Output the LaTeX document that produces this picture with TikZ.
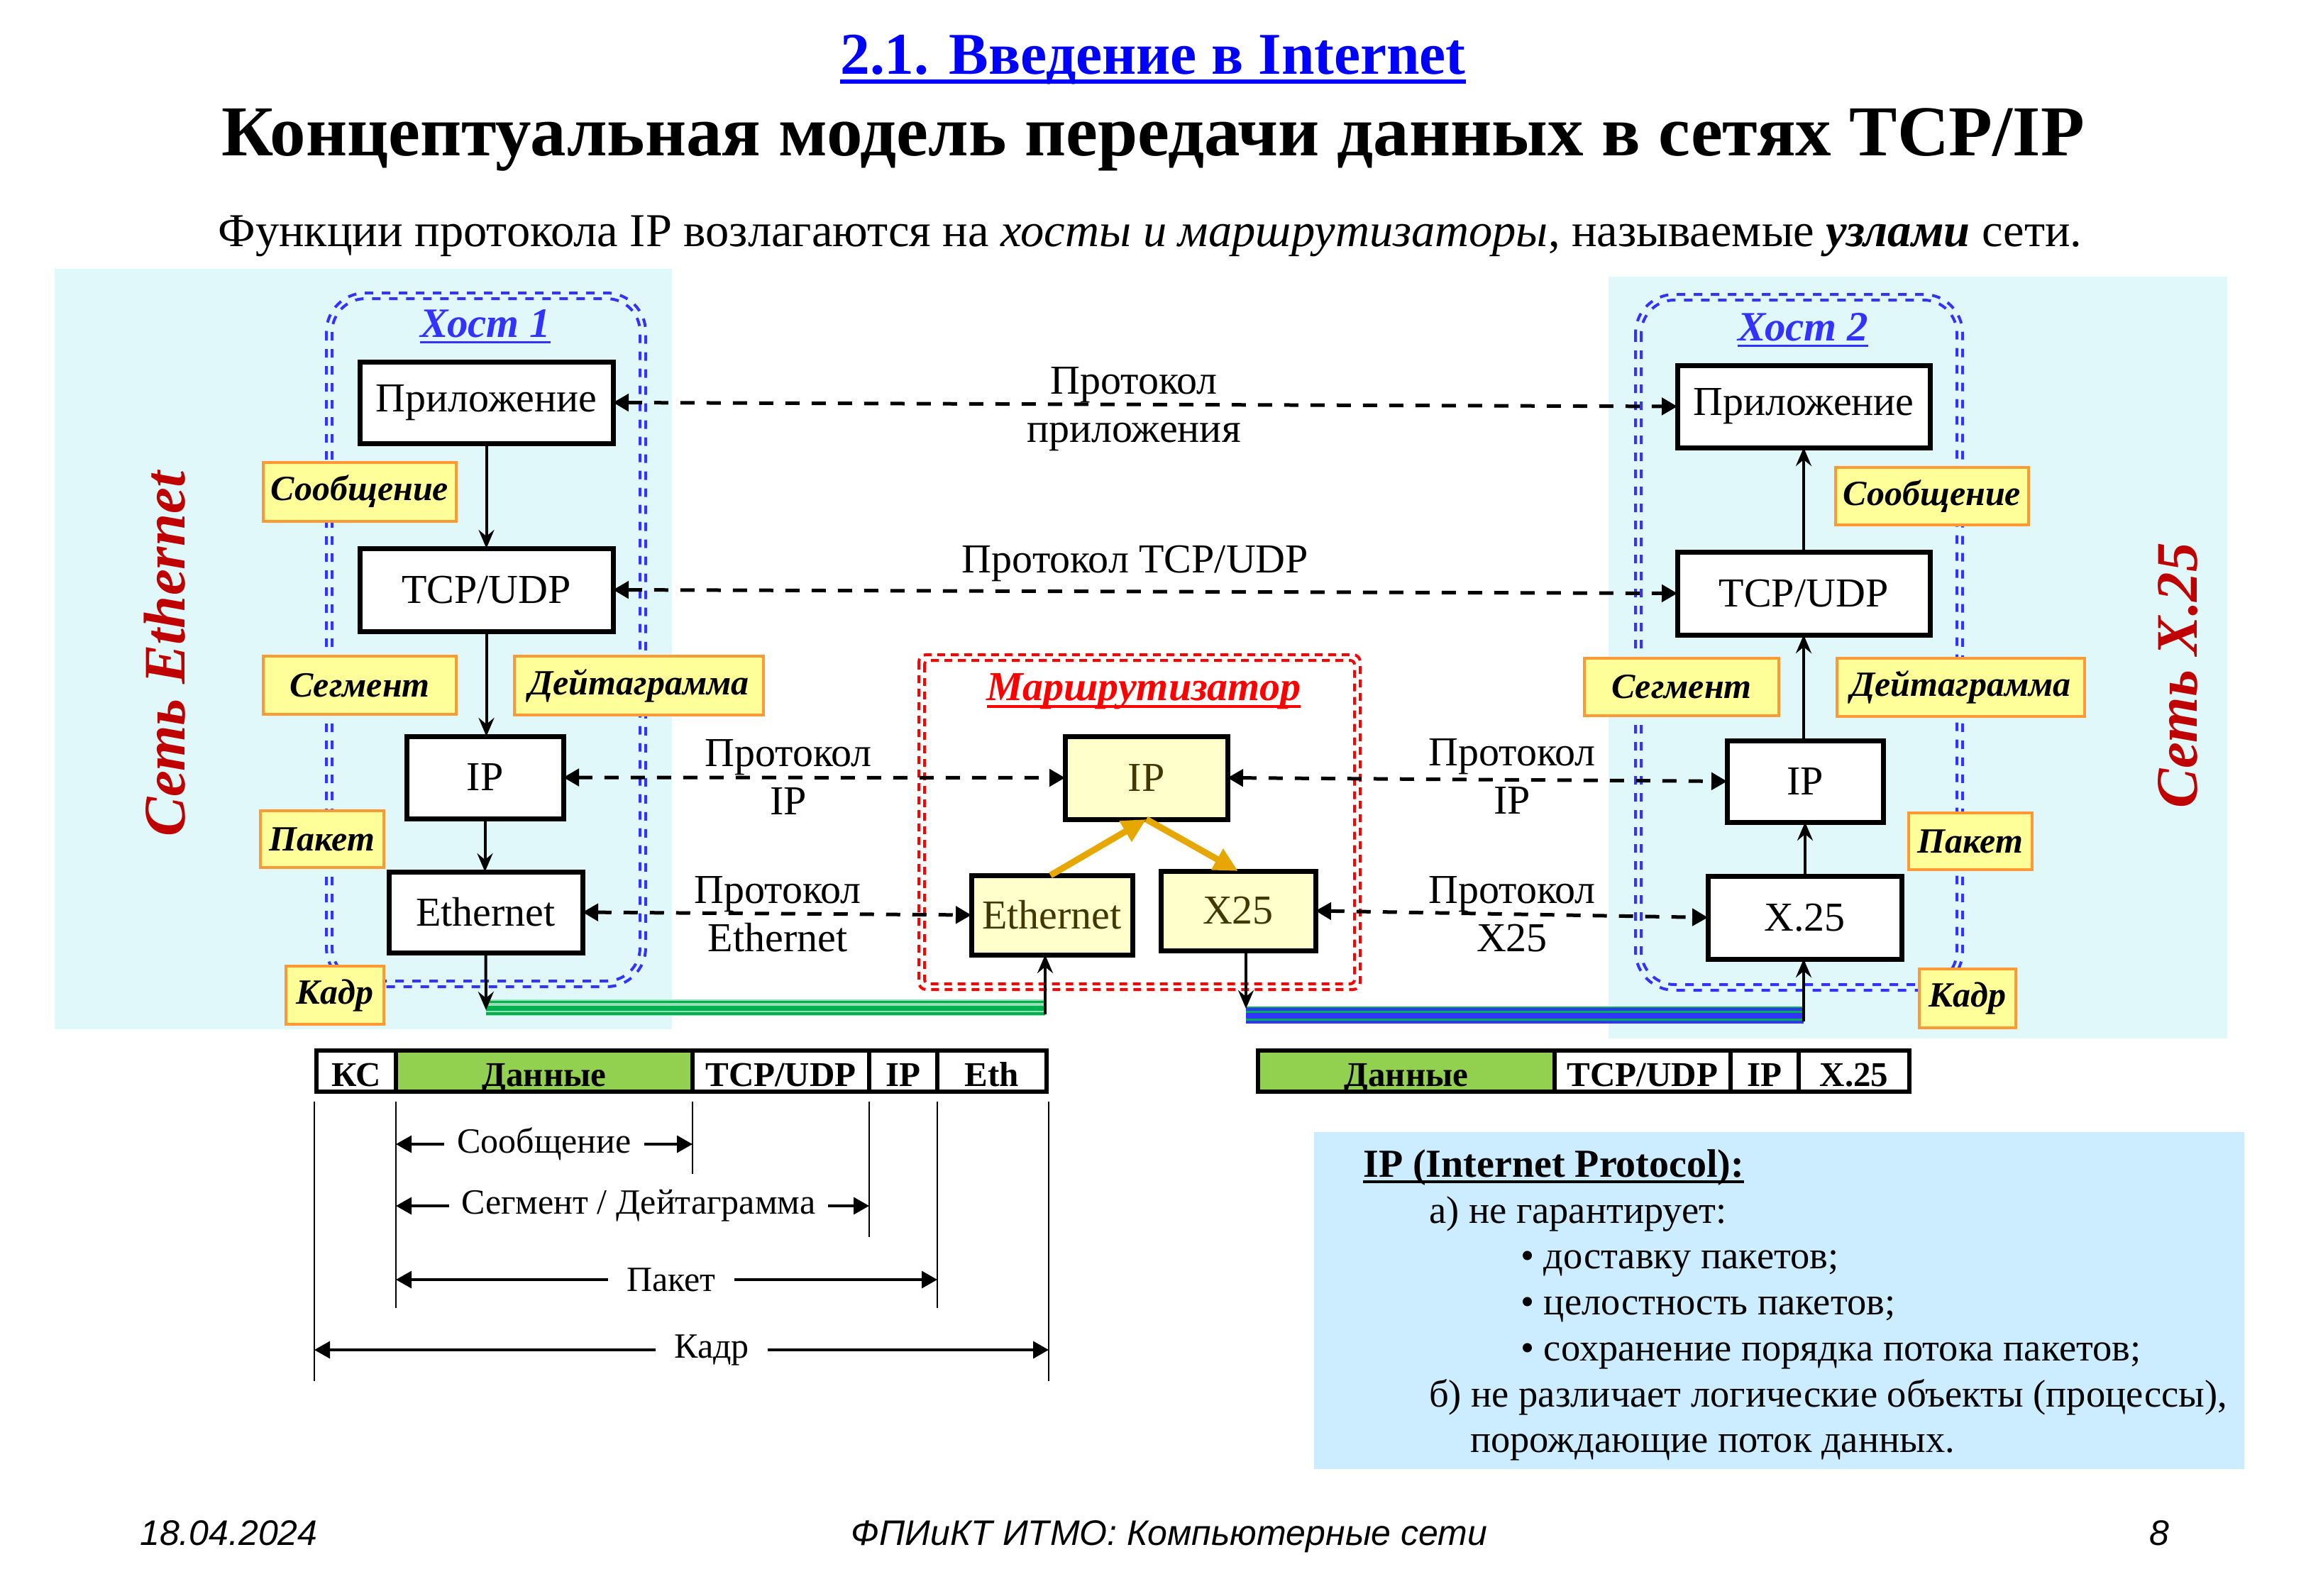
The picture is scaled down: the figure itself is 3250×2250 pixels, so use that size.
\documentclass[tikz,border=0pt]{standalone}
\usepackage{fontspec}
\setmainfont{Liberation Serif}
\setsansfont{Liberation Sans}
\usetikzlibrary{arrows.meta}

\definecolor{netbg}{RGB}{224,248,250}
\definecolor{notebg}{RGB}{204,236,255}
\definecolor{hostblue}{RGB}{51,51,255}
\definecolor{titleblue}{RGB}{0,0,255}
\definecolor{netred}{RGB}{192,0,0}
\definecolor{routerred}{RGB}{255,0,0}
\definecolor{tagfill}{RGB}{255,255,153}
\definecolor{tagedge}{RGB}{255,153,51}
\definecolor{rtrfill}{RGB}{255,255,204}
\definecolor{rtrtext}{RGB}{64,56,0}
\definecolor{gold}{RGB}{230,168,0}
\definecolor{datagreen}{RGB}{146,208,80}
\definecolor{cablegreen}{RGB}{0,176,80}
\definecolor{cablelight}{RGB}{150,225,180}
\definecolor{cableblue}{RGB}{51,51,255}

\newcommand{\fsz}[2]{\fontsize{#1}{#2}\selectfont}

\begin{document}
\begin{tikzpicture}[x=1pt, y=-1pt,
  lbox/.style={draw=black, line width=7pt, fill=white, inner sep=0pt, outer sep=0pt, font=\fsz{58}{68}},
  rbox/.style={lbox, fill=rtrfill, text=rtrtext},
  tagbox/.style={draw=tagedge, line width=4pt, fill=tagfill, inner sep=0pt, font=\bfseries\itshape\fsz{50}{60}},
  hostframe/.style={draw=hostblue, line width=4pt, dash pattern=on 12pt off 12pt},
  rtrframe/.style={draw=routerred, line width=4pt, dash pattern=on 11pt off 8pt},
  proto/.style={draw=black, line width=5pt, dash pattern=on 20pt off 17pt, {Triangle[length=22pt,width=24pt]}-{Triangle[length=22pt,width=24pt]}},
  flowarrow/.style={draw=black, line width=4pt, -{Stealth[length=26pt,width=22pt,inset=9pt]}},
  goldarrow/.style={draw=gold, line width=9pt, -{Triangle[length=34pt,width=32pt]}},
  plabel/.style={font=\fsz{58}{68}, align=center, inner sep=0pt},
  cellbox/.style={draw=black, line width=6pt, inner sep=0pt, font=\bfseries\fsz{49}{58}, minimum height=58, text height=42pt, text depth=0pt},
  tickline/.style={draw=black, line width=2.5pt},
  dimline/.style={draw=black, line width=3.5pt, -{Triangle[length=22pt,width=24pt]}},
  dimtext/.style={font=\fsz{50}{60}, inner xsep=18pt, inner ysep=0pt},
  notetext/.style={font=\fsz{54.5}{66}, anchor=base west, inner sep=0pt},
]
\useasboundingbox (0,0) rectangle (3250,2250);

% ---------- headings ----------
\node[anchor=base, inner sep=0pt, text=titleblue, font=\bfseries\fsz{83.5}{100}] (t1) at (1625,105) {2.1. Введение в Internet};
\draw[titleblue, line width=6pt] ([yshift=-10pt]t1.base west) -- ([yshift=-10pt]t1.base east);
\node[anchor=base, inner sep=0pt, font=\bfseries\fsz{101}{120}] (t2) at (1625,220) {Концептуальная модель передачи данных в сетях TCP/IP};
\node[anchor=base, inner sep=0pt, font=\fsz{66.5}{80}] (sub) at (1621,348) {Функции протокола IP возлагаются на \textit{хосты и маршрутизаторы}, называемые \textbf{\textit{узлами}} сети.};

% ---------- network backgrounds ----------
\fill[netbg] (77,379) rectangle (947,1451);
\fill[netbg] (2267,390) rectangle (3139,1464);
\fill[notebg] (1852,1596) rectangle (3163,2071);

% ---------- host and router outlines (double dashed) ----------
\draw[hostframe, rounded corners=55pt] (460,413) rectangle (910,1391);
\draw[hostframe, rounded corners=47pt] (468,421) rectangle (902,1383);
\draw[hostframe, rounded corners=55pt] (2305,415) rectangle (2766,1396);
\draw[hostframe, rounded corners=47pt] (2313,423) rectangle (2758,1388);
\draw[rtrframe, rounded corners=10pt] (1295,923) rectangle (1917,1395);
\draw[rtrframe, rounded corners=6pt] (1303,931) rectangle (1909,1387);

% ---------- cables ----------
\coordinate (ca) at (685,1424);
\coordinate (cb) at (1473,1420);
\coordinate (cc) at (1756,1422);
\coordinate (cd) at (2542,1430);
\fill[cablelight] (685,1409) rectangle (1473,1432);
\draw[cablegreen, line width=3.5pt] (685,1412.5) -- (1473,1412.5);
\draw[cablegreen, line width=7pt] (685,1421) -- (1473,1421);
\draw[cablegreen, line width=4pt] (685,1429) -- (1473,1429);
\fill[cableblue] (1756,1419) rectangle (2542,1443);
\draw[cablegreen, line width=2pt] (1756,1420) -- (2542,1420);
\draw[cablegreen, line width=2.5pt] (1756,1426.5) -- (2542,1426.5);
\draw[cablegreen, line width=3pt] (1756,1437.5) -- (2542,1437.5);

% ---------- network names ----------
\node[rotate=90, text=netred, font=\bfseries\itshape\fsz{83}{96}] (netL) at (232,922) {Сеть Ethernet};
\node[rotate=90, text=netred, font=\bfseries\itshape\fsz{83}{96}] (netR) at (3070,952) {Сеть X.25};

% ---------- host / router titles ----------
\node[inner sep=0pt, text=hostblue, font=\bfseries\itshape\fsz{59}{70}] (h1) at (684,456) {Хост 1};
\draw[hostblue, line width=3pt] ([yshift=-7pt]h1.base west) -- ([yshift=-7pt]h1.base east);
\node[inner sep=0pt, text=hostblue, font=\bfseries\itshape\fsz{59}{70}] (h2) at (2541,461) {Хост 2};
\draw[hostblue, line width=3pt] ([yshift=-7pt]h2.base west) -- ([yshift=-7pt]h2.base east);
\node[inner sep=0pt, text=routerred, font=\bfseries\itshape\fsz{58}{70}] (rt) at (1612,975) {Маршрутизатор};
\draw[routerred, line width=4pt] ([yshift=-8pt]rt.base west) -- ([yshift=-8pt]rt.base east);

% ---------- unit tags ----------
\node[tagbox, minimum width=272, minimum height=83] (msg1) at (507,693) {Сообщение};
\node[tagbox, minimum width=272, minimum height=82] (seg1) at (507,966) {Сегмент};
\node[tagbox, minimum width=351, minimum height=83] (dg1) at (900.5,966.5) {Дейтаграмма};
\node[tagbox, minimum width=174, minimum height=80] (pkt1) at (454,1183) {Пакет};
\node[tagbox, minimum width=138, minimum height=82] (fr1) at (472,1403) {Кадр};
\node[tagbox, minimum width=272, minimum height=81] (msg2) at (2723,699.5) {Сообщение};
\node[tagbox, minimum width=274, minimum height=81] (seg2) at (2370,968.5) {Сегмент};
\node[tagbox, minimum width=349, minimum height=82] (dg2) at (2763.5,969) {Дейтаграмма};
\node[tagbox, minimum width=174, minimum height=80] (pkt2) at (2777,1186) {Пакет};
\node[tagbox, minimum width=136, minimum height=83] (fr2) at (2773,1407.5) {Кадр};

% ---------- host 1 stack ----------
\node[lbox, minimum width=357, minimum height=115] (app1) at (685.5,567.5) {Приложение};
\node[lbox, minimum width=357, minimum height=117] (tcp1) at (685.5,831.5) {TCP/UDP};
\node[lbox, minimum width=221, minimum height=116] (ip1) at (683.5,1096) {IP};
\node[lbox, minimum width=273, minimum height=114] (eth1) at (684.5,1286) {Ethernet};

% ---------- host 2 stack ----------
\node[lbox, minimum width=356, minimum height=116] (app2) at (2542,573) {Приложение};
\node[lbox, minimum width=356, minimum height=117] (tcp2) at (2542,836.5) {TCP/UDP};
\node[lbox, minimum width=220, minimum height=115] (ip2) at (2544,1101.5) {IP};
\node[lbox, minimum width=273, minimum height=117] (x25h) at (2543.5,1293.5) {X.25};

% ---------- router ----------
\node[rbox, minimum width=229, minimum height=117] (rip) at (1615.5,1096.5) {IP};
\node[rbox, minimum width=227, minimum height=112] (reth) at (1482.5,1290) {Ethernet};
\node[rbox, minimum width=218, minimum height=112] (rx25) at (1745,1284) {X25};

% ---------- data flow ----------
\draw[flowarrow] (app1.south) -- (app1.south |- tcp1.north);
\draw[flowarrow] (tcp1.south) -- (tcp1.south |- ip1.north);
\draw[flowarrow] (ip1.south) -- (ip1.south |- eth1.north);
\draw[flowarrow] (eth1.south) -- (ca);
\draw[flowarrow] (cb) ++(0,10) -- (cb |- reth.south);
\draw[goldarrow] ([xshift=-2pt]reth.north) -- (rip.south);
\draw[goldarrow] (rip.south) -- (rx25.north);
\draw[flowarrow] (rx25.south -| cc) -- (cc);
\draw[flowarrow] (cd) ++(0,10) -- (cd |- x25h.south);
\draw[flowarrow] (x25h.north -| ip2.south) -- (ip2.south);
\draw[flowarrow] (ip2.north -| tcp2.south) -- (tcp2.south);
\draw[flowarrow] (tcp2.north) -- (tcp2.north |- app2.south);

% ---------- peer protocols ----------
\draw[proto] (app1.east) -- (app2.west);
\draw[proto] (tcp1.east) -- (tcp2.west);
\draw[proto] (ip1.east) -- (rip.west);
\draw[proto] (rip.east) -- (ip2.west);
\draw[proto] (eth1.east) -- (reth.west);
\draw[proto] (rx25.east) -- (x25h.west);
\node[plabel] (pa) at (1598,577) {Протокол\\приложения};
\node[plabel] (pt) at (1600,794) {Протокол TCP/UDP};
\node[plabel] (pi1) at (1111,1096) {Протокол\\IP};
\node[plabel] (pe1) at (1096,1289) {Протокол\\Ethernet};
\node[plabel] (pi2) at (2131,1095) {Протокол\\IP};
\node[plabel] (px2) at (2131,1289) {Протокол\\X25};

% ---------- Ethernet frame ----------
\node[cellbox, minimum width=112] (fkc) at (502,1510) {КС};
\node[cellbox, minimum width=418, fill=datagreen] (fdata) at (767,1510) {Данные};
\node[cellbox, minimum width=249] (ftcp) at (1100.5,1510) {TCP/UDP};
\node[cellbox, minimum width=96] (fip) at (1273,1510) {IP};
\node[cellbox, minimum width=154] (feth) at (1398,1510) {Eth};

% ---------- X.25 frame ----------
\node[cellbox, minimum width=418, fill=datagreen] (xdata) at (1982,1510) {Данные};
\node[cellbox, minimum width=248] (xtcp) at (2315,1510) {TCP/UDP};
\node[cellbox, minimum width=96] (xip) at (2487,1510) {IP};
\node[cellbox, minimum width=156] (xx25) at (2613,1510) {X.25};

% ---------- frame dimensions ----------
\coordinate (d0) at (443,1553);
\coordinate (d1) at (558,1553);
\coordinate (d2) at (976,1553);
\coordinate (d3) at (1225,1553);
\coordinate (d4) at (1321,1553);
\coordinate (d5) at (1478,1553);
\draw[tickline] (d0) -- ++(0,394);
\draw[tickline] (d1) -- ++(0,291);
\draw[tickline] (d2) -- ++(0,102);
\draw[tickline] (d3) -- ++(0,191);
\draw[tickline] (d4) -- ++(0,291);
\draw[tickline] (d5) -- ++(0,394);
\node[dimtext] (dmsg) at (767,1613) {Сообщение};
\draw[dimline] (dmsg.west) -- (dmsg.west -| d1);
\draw[dimline] (dmsg.east) -- (dmsg.east -| d2);
\node[dimtext] (dseg) at (900,1700) {Сегмент / Дейтаграмма};
\draw[dimline] (dseg.west) -- (dseg.west -| d1);
\draw[dimline] (dseg.east) -- (dseg.east -| d3);
\node[dimtext, inner xsep=26pt] (dpkt) at (946,1804) {Пакет};
\draw[dimline] (dpkt.west) -- (dpkt.west -| d1);
\draw[dimline] (dpkt.east) -- (dpkt.east -| d4);
\node[dimtext, inner xsep=26pt] (dfr) at (1003,1903) {Кадр};
\draw[dimline] (dfr.west) -- (dfr.west -| d0);
\draw[dimline] (dfr.east) -- (dfr.east -| d5);

% ---------- IP note ----------
\node[notetext, font=\bfseries\fsz{56}{66}] (n0) at (1921,1659) {IP (Internet Protocol):};
\draw[black, line width=3.5pt] ([yshift=-7pt]n0.base west) -- ([yshift=-7pt]n0.base east);
\node[notetext] (n1) at (2014,1724) {а) не гарантирует:};
\node[notetext] (n2) at (2143,1788) {• доставку пакетов;};
\node[notetext] (n3) at (2143,1853) {• целостность пакетов;};
\node[notetext] (n4) at (2143,1918) {• сохранение порядка потока пакетов;};
\node[notetext] (n5) at (2014,1983) {б) не различает логические объекты (процессы),};
\node[notetext] (n6) at (2072,2047) {порождающие поток данных.};

% ---------- footer ----------
\node[anchor=base west, inner sep=0pt, font=\sffamily\itshape\fsz{50}{60}] (fdate) at (197,2178) {18.04.2024};
\node[anchor=base, inner sep=0pt, font=\sffamily\itshape\fsz{50}{60}] (fcourse) at (1648,2178) {ФПИиКТ ИТМО: Компьютерные сети};
\node[anchor=base, inner sep=0pt, font=\sffamily\itshape\fsz{50}{60}] (fpage) at (3043,2178) {8};
\end{tikzpicture}
\end{document}
